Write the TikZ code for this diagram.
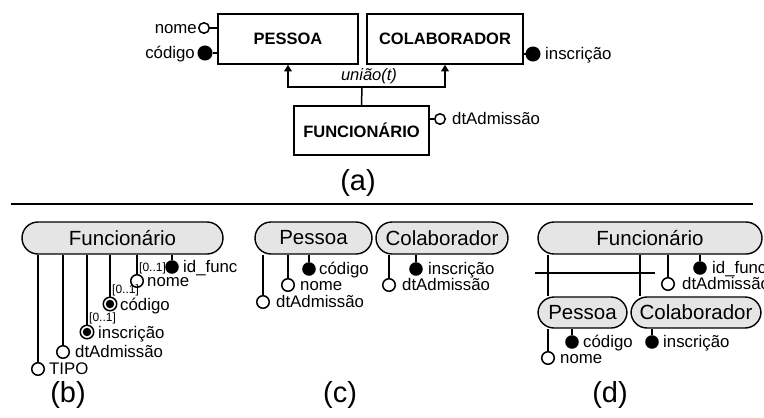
\documentclass[tikz,border=0pt]{standalone}
\usepackage{fontspec}
\setmainfont{Liberation Sans}
\usetikzlibrary{arrows.meta}

\tikzset{
  ent/.style={draw, line width=1.5pt, inner sep=0pt,
    font=\fontsize{16.5}{20}\selectfont\bfseries},
  rbox/.style={draw, line width=1.4pt, fill=black!10, inner sep=0pt,
    minimum height=32pt, rounded corners=16pt,
    font=\fontsize{20.5}{24}\selectfont},
  opn/.style={draw, circle, line width=1.5pt, fill=white, inner sep=0pt, minimum size=12.5pt},
  smallopn/.style={opn, minimum size=10.5pt},
  keyc/.style={draw, circle, line width=1.5pt, fill=black, inner sep=0pt, minimum size=12pt},
  bigkey/.style={keyc, minimum size=13.5pt},
  optk/.style={opn, minimum size=13.5pt},
  optdot/.style={circle, fill=black, inner sep=0pt, minimum size=8.5pt},
  lbl/.style={inner sep=0pt, anchor=base west, font=\fontsize{16.8}{20}\selectfont},
  lble/.style={lbl, anchor=base east},
  card/.style={inner sep=0pt, anchor=base west, font=\fontsize{12}{14}\selectfont},
  figlabel/.style={inner sep=0pt, font=\fontsize{29}{33}\selectfont},
  link/.style={line width=1.6pt},
  gen/.style={line width=1.5pt, -{Triangle[width=7.5pt,length=6.5pt]}},
  sepline/.style={line width=2.6pt}
}

\begin{document}
\begin{tikzpicture}[x=1pt,y=-1pt]
\useasboundingbox (0,0) rectangle (764,418);

% ---------- (a) classic notation ----------
\node[ent, minimum width=140pt, minimum height=50pt] (pessoa) at (288,39) {PESSOA};
\node[ent, minimum width=156pt, minimum height=50pt] (colab) at (445,39) {COLABORADOR};
\node[ent, minimum width=135pt, minimum height=49pt] (func) at (361.5,130.5) {FUNCIONÁRIO};

\coordinate (g) at (362,87);
\draw[gen, -] (func.north) -- (g);
\draw[gen] (g) -| (pessoa.south);
\draw[gen] (g) -| (colab.south);
\node[inner sep=0pt, font=\fontsize{16.5}{20}\selectfont\itshape] (uniao) at (369,76) {união(t)};

\node[smallopn] (anome) at (204,28) {};
\draw[link] (anome) -- (anome -| pessoa.west);
\node[lble] (anomeT) at (197,33) {nome};
\node[bigkey] (acod) at (205,53) {};
\draw[link] (acod) -- (acod -| pessoa.west);
\node[lble] (acodT) at (195,58) {código};
\node[bigkey] (ains) at (533,54) {};
\draw[link] (ains) -- (ains -| colab.east);
\node[lbl] (ainsT) at (545,59) {inscrição};
\node[smallopn] (adt) at (440,119) {};
\draw[link] (adt) -- (adt -| func.east);
\node[lbl] (adtT) at (452,124) {dtAdmissão};

\node[figlabel] (capa) at (358,183) {(a)};

\coordinate (sepL) at (11,204);
\coordinate (sepR) at (753,204);
\draw[sepline] (sepL) -- (sepR);

% ---------- (b) single entity ----------
\node[rbox, minimum width=201pt] (bfun) at (122.5,238) {Funcionário};

\node[opn] (btipo) at (38,369) {};
\node[opn] (bdt) at (63,352) {};
\node[optk] (bins) at (87,332) {};
\node[optk] (bcod) at (110,304) {};
\node[opn] (bnome) at (137,281) {};
\node[keyc] (bid) at (172,267) {};
\foreach \a in {btipo,bdt,bins,bcod,bnome,bid}
  \draw[link] (\a) -- (\a |- bfun.south);
\node[optdot] (binsD) at (bins) {};
\node[optdot] (bcodD) at (bcod) {};

\node[lbl] (btipoT) at (49,374) {TIPO};
\node[lbl] (bdtT) at (75,357) {dtAdmissão};
\node[lbl] (binsT) at (98,338) {inscrição};
\node[lbl] (bcodT) at (120,310) {código};
\node[lbl] (bnomeT) at (147,286) {nome};
\node[lbl] (bidT) at (183,272) {id\_func};
\node[card] (bc1) at (139,271) {[0..1]};
\node[card] (bc2) at (112,293.5) {[0..1]};
\node[card] (bc3) at (89,321.5) {[0..1]};

\node[figlabel] (capb) at (68,395) {(b)};

% ---------- (c) two entities ----------
\node[rbox, minimum width=117pt] (cpes) at (313.5,238) {Pessoa};
\node[rbox, minimum width=132pt] (ccol) at (442,238) {Colaborador};

\node[opn] (cdtp) at (263,302) {};
\node[opn] (cnome) at (288,285) {};
\node[keyc] (ccod) at (309,269) {};
\foreach \a in {cdtp,cnome,ccod}
  \draw[link] (\a) -- (\a |- cpes.south);
\node[opn] (cdtc) at (389,285) {};
\node[keyc] (cins) at (416,269) {};
\foreach \a in {cdtc,cins}
  \draw[link] (\a) -- (\a |- ccol.south);

\node[lbl] (cdtpT) at (276,307) {dtAdmissão};
\node[lbl] (cnomeT) at (300,290) {nome};
\node[lbl] (ccodT) at (319,274) {código};
\node[lbl] (cdtcT) at (402,290) {dtAdmissão};
\node[lbl] (cinsT) at (428,274) {inscrição};

\node[figlabel] (capc) at (340,395) {(c)};

% ---------- (d) nested entities ----------
\node[rbox, minimum width=224pt] (dfun) at (650,238) {Funcionário};
\node[rbox, minimum width=89pt, minimum height=31pt] (dpes) at (582.5,312.5) {Pessoa};
\node[rbox, minimum width=130pt, minimum height=31pt] (dcol) at (696,312.5) {Colaborador};

\coordinate (dx1) at (548,0);
\coordinate (dx2) at (640,0);
\draw[link] (dx1 |- dfun.south) -- (dx1 |- dpes.north);
\draw[link] (dx2 |- dfun.south) -- (dx2 |- dcol.north);

\node[opn] (ddt) at (668,284) {};
\node[keyc] (did) at (700,268) {};
\foreach \a in {ddt,did}
  \draw[link] (\a) -- (\a |- dfun.south);
\node[lbl] (didT) at (712,273) {id\_func};
\node[lbl] (ddtT) at (682,289) {dtAdmissão};

\coordinate (hL) at (535,273);
\coordinate (hR) at (655,273);
\draw[sepline] (hL) -- (hR);

\node[opn] (dnome) at (548,358) {};
\node[keyc] (dcod) at (572,342) {};
\foreach \a in {dnome,dcod}
  \draw[link] (\a) -- (\a |- dpes.south);
\node[keyc] (dins) at (652,342) {};
\draw[link] (dins) -- (dins |- dcol.south);

\node[lbl] (dcodT) at (583,347) {código};
\node[lbl] (dnomeT) at (560,363) {nome};
\node[lbl] (dinsT) at (663,347) {inscrição};

\node[figlabel] (capd) at (610,395) {(d)};
\end{tikzpicture}
\end{document}
